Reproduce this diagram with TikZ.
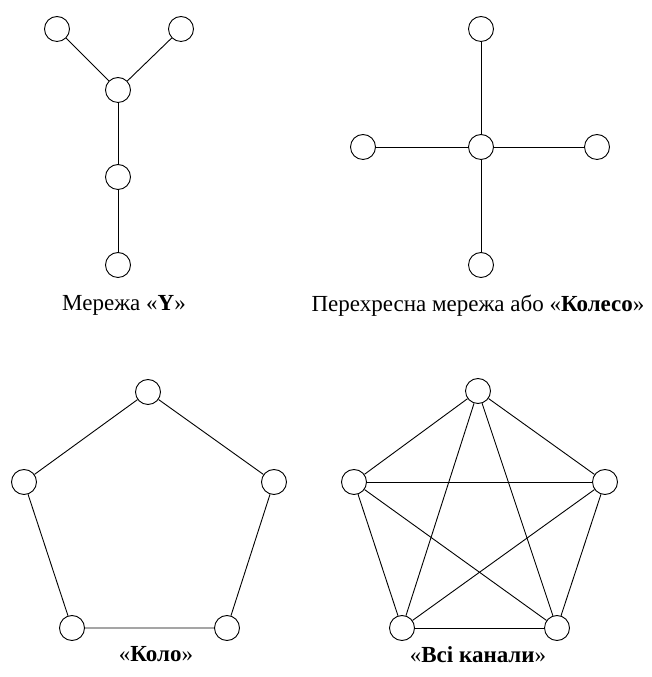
\documentclass[tikz,border=0pt]{standalone}
\usepackage{fontspec}
\setmainfont{Liberation Serif}[BoldFont={Liberation Serif Bold}]
\usepackage{tikz}
\usetikzlibrary{positioning}

\begin{document}
\begin{tikzpicture}[
    x=1pt, y=1pt,
    station/.style={circle, draw, fill=white, line width=0.9pt, minimum size=25pt, inner sep=0pt},
    link/.style={line width=0.9pt},
    caption/.style={font=\fontsize{23}{26}\selectfont, inner sep=0pt}
]
    \useasboundingbox (0,0) rectangle (651,677);

    % Y network
    \node[station] (ytl) at (57,648)  {};
    \node[station] (ytr) at (181,648) {};
    \node[station] (yc)  at (118,587) {};
    \node[station] (ym)  at (118,500) {};
    \node[station] (yb)  at (118,412) {};
    \draw[link] (ytl) -- (yc);
    \draw[link] (ytr) -- (yc);
    \draw[link] (yc) -- (ym);
    \draw[link] (ym) -- (yb);
    \node[caption, below=17pt of yb, xshift=6pt] (ylabel) {Мережа «\textbf{Y}»};

    % Wheel
    \node[station] (wt) at (481,648) {};
    \node[station] (wc) at (481,530) {};
    \node[station] (wl) at (363,530) {};
    \node[station] (wr) at (597,530) {};
    \node[station] (wb) at (481,412) {};
    \draw[link] (wt) -- (wc);
    \draw[link] (wl) -- (wc);
    \draw[link] (wr) -- (wc);
    \draw[link] (wb) -- (wc);
    \node[caption, below=17pt of wb, xshift=-3pt] (wlabel) {Перехресна мережа або «\textbf{Колесо}»};

    % Ring
    \node[station] (rt)  at (148,285) {};
    \node[station] (rl)  at (24,195)  {};
    \node[station] (rr)  at (274,195) {};
    \node[station] (rbl) at (72,49)   {};
    \node[station] (rbr) at (227,49)  {};
    \draw[link] (rt) -- (rr) -- (rbr) -- (rbl) -- (rl) -- (rt);
    \node[caption, below=18pt of rt |- rbl, xshift=8pt] (rlabel) {«\textbf{Коло}»};

    % All channels
    \node[station] (at)  at (478,286) {};
    \node[station] (al)  at (354,195) {};
    \node[station] (ar)  at (605,195) {};
    \node[station] (abl) at (402,49)  {};
    \node[station] (abr) at (557,49)  {};
    \foreach \a/\b in {at/al, at/ar, at/abl, at/abr, al/ar, al/abl, al/abr, ar/abl, ar/abr, abl/abr}
        \draw[link] (\a) -- (\b);
    \node[caption, below=18pt of at |- abl] (alabel) {«\textbf{Всі канали}»};

\end{tikzpicture}
\end{document}
